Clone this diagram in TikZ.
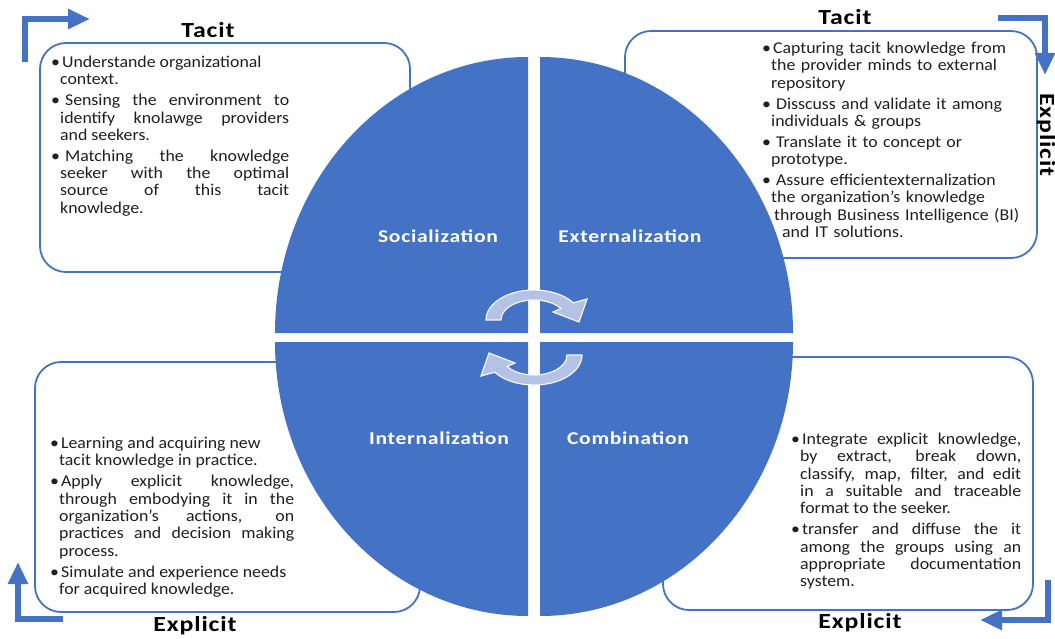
\documentclass[tikz,border=0pt]{standalone}
\usepackage{fontspec}
\setmainfont[FakeStretch=1.08]{Carlito}
\newfontfamily\widebold[FakeStretch=1.2,LetterSpace=4]{Carlito}
\usetikzlibrary{arrows,arrows.meta,calc,positioning,shapes}
\definecolor{quadblue}{HTML}{4472C4}
\definecolor{cycleblue}{HTML}{B4C2E4}
\newdimen\hangdim
\hangdim=9pt
\newenvironment{kitems}{%
  \begin{list}{\textbullet}{%
    \setlength{\leftmargin}{\hangdim}\setlength{\labelwidth}{7pt}%
    \setlength{\labelsep}{2pt}\setlength{\itemsep}{3.7pt}%
    \setlength{\parsep}{0pt}\setlength{\topsep}{0pt}\setlength{\partopsep}{0pt}%
    \renewcommand{\makelabel}[1]{##1\hfil}}}%
  {\end{list}}
\newcommand{\bgap}{\hspace*{3pt}}
\tikzstyle{phasebox}=[
  draw=quadblue,
  fill=white,
  inner sep=0pt,
  line width=1.8pt,
  outer sep=0pt,
  rectangle,
  rounded corners=26pt,
]
\tikzstyle{phasetext}=[
  anchor=north west,
  align=justify,
  execute at begin node={\setlength{\parskip}{0pt}\tolerance=10000\hbadness=10000},
  font={\fontsize{16.5}{17.3}\selectfont},
  inner sep=0pt,
  text=black!88,
]
\tikzstyle{quadrant}=[
  fill=quadblue,
]
\tikzstyle{quadlabel}=[
  font={\fontsize{18}{22}\widebold\bfseries},
  text=white,
]
\tikzstyle{modelabel}=[
  font={\fontsize{21.5}{24}\widebold\bfseries},
  inner sep=0pt,
]
\tikzstyle{turnarrow}=[
  -{Triangle[width=19pt,length=22pt]},
  draw=quadblue,
  line width=5.5pt,
  line join=miter,
]
\tikzstyle{cyclearrow}=[
  draw=white!85!cycleblue,
  fill=cycleblue,
  line width=1.2pt,
]
\tikzset{
  x=1pt, y=-1pt,
  node distance=4pt,
  >=stealth,
}
\begin{document}
\begin{tikzpicture}
  \useasboundingbox (0,0) rectangle (1055,639);
  %% boxes behind the cycle
  \node (socbox) [phasebox, minimum width=370pt, minimum height=229pt] at (225,157.5) {};
  \node (extbox) [phasebox, minimum width=412pt, minimum height=227pt] at (831,144.5) {};
  \node (intbox) [phasebox, minimum width=385pt, minimum height=250pt] at (227.5,487) {};
  \node (combox) [phasebox, minimum width=370pt, minimum height=253pt] at (848,483.5) {};
  %% four quarters
  \fill [quadrant] (528,333) -- ++(-253,0)
    arc [start angle=180, end angle=270, x radius=253, y radius=276] -- cycle;
  \fill [quadrant] (540,333) -- ++(0,-276)
    arc [start angle=270, end angle=360, x radius=253, y radius=276] -- cycle;
  \fill [quadrant] (540,342) -- ++(253,0)
    arc [start angle=0, end angle=90, x radius=253, y radius=274] -- cycle;
  \fill [quadrant] (528,342) -- ++(0,274)
    arc [start angle=90, end angle=180, x radius=253, y radius=274] -- cycle;
  \node (soc) [quadlabel] at (438,236) {Socialization};
  \node (ext) [quadlabel] at (630,236) {Externalization};
  \node (int) [quadlabel] at (439,438) {Internalization};
  \node (com) [quadlabel] at (628,438) {Combination};
  %% cycle arrows
  \path [cyclearrow] (486,320)
    arc [start angle=180, end angle=325, x radius=48, y radius=30]
    -- (587,299) -- (579,322) -- (553,312) -- (561,308.5)
    arc [start angle=325, end angle=180, x radius=33, y radius=20] -- cycle;
  \begin{scope}[rotate around={180:(534,337.5)}]
    \path [cyclearrow] (486,320)
      arc [start angle=180, end angle=325, x radius=48, y radius=30]
      -- (587,299) -- (579,322) -- (553,312) -- (561,308.5)
      arc [start angle=325, end angle=180, x radius=33, y radius=20] -- cycle;
  \end{scope}
  %% texts
  \node (soctext) [phasetext, text width=238pt] at (51,50) {%
    \begin{kitems}
    \item Understande organizational\newline context.
    \item \bgap Sensing the environment to\linebreak identify knolawge providers\linebreak and seekers.
    \item \bgap Matching the knowledge\linebreak seeker with the optimal\linebreak source of this tacit\linebreak knowledge.
    \end{kitems}};
  \node (exttext) [phasetext, align=left, text width=275pt] at (762,36) {%
    \begin{kitems}
    \item Capturing tacit knowledge from\newline the provider minds to external\newline repository
    \item \bgap Disscuss and validate it among\newline individuals \& groups
    \item \bgap Translate it to concept or\newline prototype.
    \item \bgap Assure efficientexternalization\newline the organization's knowledge\newline \hspace*{3pt}through Business Intelligence (BI)\newline \hspace*{11pt}and IT solutions.
    \end{kitems}};
  \node (inttext) [phasetext, text width=244pt] at (50,431) {%
    \begin{kitems}
    \item Learning and acquiring new\newline tacit knowledge in practice.
    \item Apply explicit knowledge,\linebreak through embodying it in the\linebreak organization's actions, on\linebreak practices and decision making\linebreak process.
    \item Simulate and experience needs\newline for acquired knowledge.
    \end{kitems}};
  \node (comtext) [phasetext, text width=230pt] at (791,427) {%
    \begin{kitems}
    \item Integrate explicit knowledge,\linebreak by extract, break down,\linebreak classify, map, filter, and edit\linebreak in a suitable and traceable\linebreak format to the seeker.
    \item transfer and diffuse the it\linebreak among the groups using an\linebreak appropriate documentation\linebreak system.
    \end{kitems}};
  %% tacit / explicit labels
  \node (tacitA) [modelabel] at (208,30) {Tacit};
  \node (tacitB) [modelabel] at (845,17) {Tacit};
  \node (explA) [modelabel, rotate=-90] at (1046,135) {Explicit};
  \node (explB) [modelabel] at (195,626) {Explicit};
  \node (explC) [modelabel] at (860,623) {Explicit};
  %% corner arrows
  \coordinate (A0) at (25,62);  \coordinate (A1) at (25,19);   \coordinate (A2) at (90,19);
  \coordinate (B0) at (998,18); \coordinate (B1) at (1045,18); \coordinate (B2) at (1045,75);
  \coordinate (C0) at (1048,580); \coordinate (C1) at (1048,620); \coordinate (C2) at (980,620);
  \coordinate (D0) at (63,619); \coordinate (D1) at (18,619);  \coordinate (D2) at (18,562);
  \draw [turnarrow] (A0) -- (A1) -- (A2);
  \draw [turnarrow] (B0) -- (B1) -- (B2);
  \draw [turnarrow] (C0) -- (C1) -- (C2);
  \draw [turnarrow] (D0) -- (D1) -- (D2);
\end{tikzpicture}
\end{document}
